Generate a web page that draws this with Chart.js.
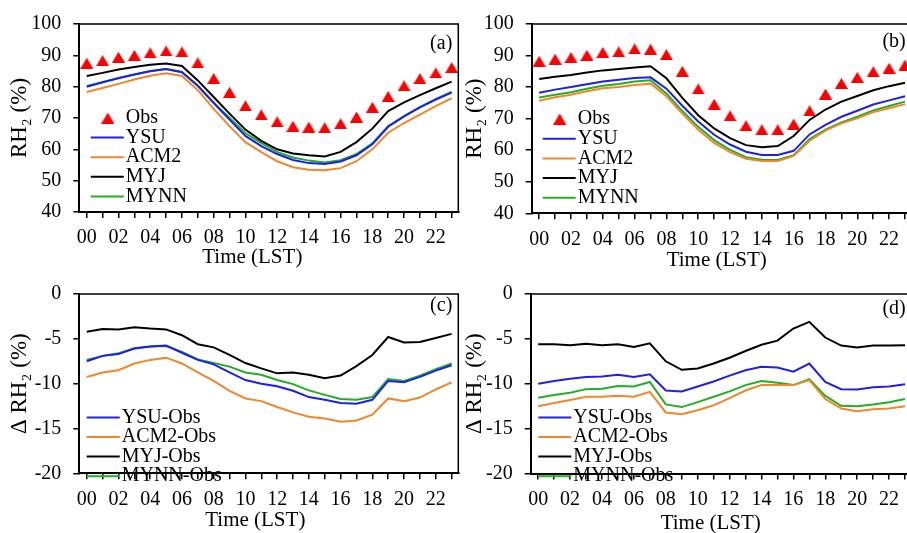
<!DOCTYPE html>
<html>
<head>
<meta charset="utf-8">
<script src="https://cdn.jsdelivr.net/npm/chart.js@4"></script>
<style>
  html, body { margin: 0; padding: 0; background: #fff; }
  body { position: relative; width: 907px; height: 533px; overflow: hidden; }
  .panel { position: absolute; }
</style>
</head>
<body>
<div class="panel" style="left:0;top:0;width:466px;height:268px"><canvas id="pa"></canvas></div>
<div class="panel" style="left:460px;top:0;width:460px;height:271px"><canvas id="pb"></canvas></div>
<div class="panel" style="left:0;top:270px;width:466px;height:261px"><canvas id="pc"></canvas></div>
<div class="panel" style="left:460px;top:270px;width:460px;height:263px"><canvas id="pd"></canvas></div>
<script>
const hours = [0, 1, 2, 3, 4, 5, 6, 7, 8, 9, 10, 11, 12, 13, 14, 15, 16, 17, 18, 19, 20, 21, 22, 23];

// (a) RH2
const obsA = [87.5, 88.3, 89.4, 90.0, 90.8, 91.4, 91.1, 87.6, 82.6, 78.2, 73.9, 71.0, 68.8, 67.4, 67.1, 66.9, 68.2, 70.3, 73.4, 76.9, 80.3, 82.6, 84.4, 86.1];
const ysuA = [80.0, 81.4, 82.7, 83.9, 84.9, 85.6, 84.6, 80.3, 74.8, 69.5, 64.3, 61.0, 58.5, 56.6, 55.6, 55.3, 56.1, 58.1, 61.6, 67.2, 70.5, 73.4, 75.9, 78.1];
const acmA = [78.3, 79.6, 80.9, 82.3, 83.5, 84.3, 83.4, 78.9, 72.9, 67.4, 62.3, 59.1, 56.2, 54.3, 53.5, 53.3, 54.0, 56.2, 60.0, 65.3, 68.4, 71.1, 73.8, 76.3];
const myjA = [83.4, 84.4, 85.5, 86.3, 87.0, 87.4, 86.6, 82.0, 76.7, 71.4, 66.3, 62.7, 60.0, 58.7, 58.1, 57.7, 59.2, 62.3, 66.6, 72.2, 75.0, 77.3, 79.5, 81.6];
const mynnA = [80.2, 81.4, 82.8, 83.9, 85.0, 85.6, 84.7, 80.3, 74.9, 70.1, 65.2, 62.0, 59.2, 57.4, 56.4, 55.8, 56.5, 58.5, 61.9, 67.4, 70.6, 73.5, 76.0, 78.4];

// (b) RH2
const obsB = [88.2, 88.9, 89.4, 90.1, 91.0, 91.2, 92.1, 92.0, 90.3, 85.0, 79.4, 74.6, 70.9, 67.8, 66.5, 66.5, 68.3, 72.5, 77.8, 81.2, 83.1, 84.9, 86.0, 87.0];
const ysuB = [78.2, 79.2, 80.0, 80.9, 81.8, 82.3, 82.9, 83.1, 79.5, 74.1, 69.1, 64.9, 61.8, 59.5, 58.5, 58.5, 59.8, 65.0, 68.0, 70.6, 72.5, 74.5, 75.8, 77.1];
const acmB = [75.7, 76.8, 77.6, 78.7, 79.6, 80.0, 80.7, 81.1, 77.1, 71.6, 66.5, 62.3, 59.4, 57.3, 56.6, 56.6, 58.2, 63.0, 66.2, 68.5, 70.1, 72.1, 73.3, 74.6];
const myjB = [82.6, 83.3, 83.8, 84.6, 85.3, 85.7, 86.2, 86.6, 82.8, 76.6, 71.1, 66.9, 63.8, 61.6, 60.9, 61.3, 64.5, 69.6, 72.9, 75.4, 77.2, 79.0, 80.3, 81.4];
const mynnB = [76.7, 77.6, 78.4, 79.5, 80.4, 81.0, 81.8, 82.2, 78.0, 72.4, 67.4, 63.2, 60.1, 57.8, 57.0, 56.9, 58.4, 63.5, 66.5, 68.8, 70.6, 72.6, 74.0, 75.4];

// (c) model - obs
const dYsuC = [-7.5, -6.9, -6.7, -6.05, -5.85, -5.75, -6.55, -7.35, -7.85, -8.75, -9.6, -10.0, -10.3, -10.8, -11.5, -11.8, -12.15, -12.25, -11.8, -9.7, -9.85, -9.25, -8.55, -7.95];
const dAcmC = [-9.25, -8.75, -8.5, -7.75, -7.35, -7.1, -7.75, -8.75, -9.7, -10.8, -11.65, -11.95, -12.6, -13.2, -13.7, -13.9, -14.25, -14.1, -13.45, -11.65, -11.95, -11.55, -10.65, -9.85];
const dMyjC = [-4.2, -3.9, -3.95, -3.7, -3.85, -3.95, -4.6, -5.6, -5.95, -6.8, -7.7, -8.3, -8.85, -8.75, -9.0, -9.4, -9.1, -8.05, -6.8, -4.8, -5.4, -5.35, -4.9, -4.45];
const dMynnC = [-7.35, -6.9, -6.6, -6.1, -5.85, -5.8, -6.45, -7.3, -7.7, -8.1, -8.75, -9.0, -9.6, -10.05, -10.75, -11.25, -11.7, -11.8, -11.5, -9.5, -9.7, -9.1, -8.4, -7.75];

// (d) model - obs
const dYsuD = [-10.0, -9.7, -9.45, -9.25, -9.2, -9.0, -9.25, -8.95, -10.75, -10.85, -10.3, -9.75, -9.1, -8.5, -8.1, -8.2, -8.65, -7.75, -9.8, -10.6, -10.65, -10.4, -10.3, -10.05];
const dAcmD = [-12.5, -12.15, -11.8, -11.45, -11.45, -11.35, -11.45, -10.9, -13.2, -13.4, -12.95, -12.4, -11.6, -10.75, -10.15, -10.15, -10.15, -9.6, -11.7, -12.75, -13.05, -12.85, -12.75, -12.5];
const dMyjD = [-5.6, -5.6, -5.7, -5.55, -5.7, -5.6, -5.9, -5.5, -7.5, -8.45, -8.3, -7.75, -7.1, -6.35, -5.65, -5.2, -3.85, -3.1, -4.85, -5.75, -5.95, -5.75, -5.75, -5.7];
const dMynnD = [-11.55, -11.25, -11.0, -10.6, -10.55, -10.25, -10.3, -9.8, -12.3, -12.6, -12.05, -11.45, -10.85, -10.15, -9.7, -9.9, -10.15, -9.5, -11.35, -12.45, -12.5, -12.3, -12.05, -11.7];

const FONT = '"Liberation Serif", "Times New Roman", "DejaVu Serif", serif';
Chart.defaults.font.family = FONT;
Chart.defaults.color = '#000';

const BLUE = 'rgb(30,30,240)';
const ORANGE = 'rgb(240,135,40)';
const BLACK = '#000';
const GREEN = 'rgb(35,175,35)';
const RED = 'rgb(255,0,0)';

// triangle marker centred on its bounding box
function triangle(w, h, color) {
    const c = document.createElement('canvas');
    c.width = w;
    c.height = h;
    const g = c.getContext('2d');
    g.fillStyle = color;
    g.beginPath();
    g.moveTo(w / 2, 0);
    g.lineTo(w, h);
    g.lineTo(0, h);
    g.closePath();
    g.fill();
    return c;
}
const tri = triangle(13, 11, RED);

function lineSet(label, values, color) {
    return { label: label, data: values, borderColor: color, backgroundColor: color, borderWidth: 2, pointRadius: 0, tension: 0 };
}
function obsSet(values) {
    return { label: 'Obs', data: values, showLine: false, pointStyle: tri, pointRadius: 7, borderWidth: 0, backgroundColor: RED, borderColor: RED };
}

// frame, legend inside the plot, x title and panel tag
const panelDeco = {
    id: 'panelDeco',
    afterDraw(chart, args, o) {
        const { ctx, chartArea: a } = chart;
        ctx.save();
        ctx.strokeStyle = '#000';
        ctx.lineWidth = 1.5;
        ctx.beginPath();
        ctx.moveTo(a.left, a.top);
        ctx.lineTo(a.right, a.top);
        ctx.lineTo(a.right, a.bottom);
        ctx.stroke();

        ctx.font = '20px ' + FONT;
        ctx.fillStyle = '#000';
        ctx.textBaseline = 'middle';
        chart.data.datasets.forEach((ds, i) => {
            const x = a.left + o.lx;
            const y = a.top + o.ly + i * o.gap;
            if (ds.showLine === false) {
                ctx.drawImage(ds.pointStyle, x + 17 - 6.5, y - 5.5);
            } else {
                ctx.strokeStyle = ds.borderColor;
                ctx.lineWidth = 2;
                ctx.beginPath();
                ctx.moveTo(x, y);
                ctx.lineTo(x + 33, y);
                ctx.stroke();
            }
            ctx.fillStyle = '#000';
            ctx.fillText(ds.label, x + 35, y);
        });

        ctx.textAlign = 'right';
        ctx.fillText(o.tag, a.right - 6, a.top + o.tagY);

        ctx.font = '21px ' + FONT;
        ctx.textAlign = 'center';
        ctx.fillText('Time (LST)', a.left + o.tx, a.bottom + o.ty);
        ctx.restore();
    }
};

function makePanel(id, p) {
    new Chart(document.getElementById(id), {
        type: 'line',
        data: { labels: hours, datasets: p.datasets },
        options: {
            animation: false,
            responsive: true,
            maintainAspectRatio: false,
            layout: { padding: { left: 0, top: p.top, right: p.right, bottom: 0 } },
            plugins: {
                legend: { display: false },
                tooltip: { enabled: false },
                panelDeco: p.deco
            },
            scales: {
                x: {
                    type: 'linear',
                    min: -0.47,
                    max: 23.42,
                    afterBuildTicks: s => { s.ticks = hours.map(h => ({ value: h })); },
                    afterFit: s => { s.height = p.xh; },
                    ticks: {
                        autoSkip: false,
                        maxRotation: 0,
                        padding: 8,
                        font: { size: 20 },
                        callback: v => (v % 2 === 0 ? String(v).padStart(2, '0') : '')
                    },
                    grid: { drawOnChartArea: false, drawTicks: true, tickLength: 6, color: '#000', lineWidth: 1.5 },
                    border: { display: true, color: '#000', width: 2 },
                    title: { display: false }
                },
                y: {
                    min: p.ymin,
                    max: p.ymax,
                    afterFit: s => { s.width = p.yw; },
                    ticks: { stepSize: p.step, padding: 12, font: { size: 20 } },
                    grid: { drawOnChartArea: false, drawTicks: true, tickLength: 6, color: '#000', lineWidth: 1.5 },
                    border: { display: true, color: '#000', width: 2 },
                    title: { display: true, text: p.ytitle, font: { size: 23, lineHeight: 1 }, padding: { top: p.tpad, bottom: 0 } }
                }
            }
        },
        plugins: [panelDeco]
    });
}

makePanel('pa', {
    datasets: [obsSet(obsA), lineSet('YSU', ysuA, BLUE), lineSet('ACM2', acmA, ORANGE), lineSet('MYJ', myjA, BLACK), lineSet('MYNN', mynnA, GREEN)],
    top: 22, right: 7.7, yw: 79.3, xh: 56, tpad: 8.5,
    ymin: 40, ymax: 100, step: 10, ytitle: 'RH₂ (%)',
    deco: { lx: 11.5, ly: 94, gap: 19.6, tag: '(a)', tagY: 20, tx: 173, ty: 45.5 }
});
makePanel('pb', {
    datasets: [obsSet(obsB), lineSet('YSU', ysuB, BLUE), lineSet('ACM2', acmB, ORANGE), lineSet('MYJ', myjB, BLACK), lineSet('MYNN', mynnB, GREEN)],
    top: 23, right: 8.3, yw: 71.7, xh: 57.7, tpad: 3.5,
    ymin: 40, ymax: 100, step: 10, ytitle: 'RH₂ (%)',
    deco: { lx: 11, ly: 95, gap: 19.7, tag: '(b)', tagY: 18, tx: 185, ty: 47.5 }
});
makePanel('pc', {
    datasets: [lineSet('YSU-Obs', dYsuC, BLUE), lineSet('ACM2-Obs', dAcmC, ORANGE), lineSet('MYJ-Obs', dMyjC, BLACK), lineSet('MYNN-Obs', dMynnC, GREEN)],
    top: 13.3, right: 7.7, yw: 79.3, xh: 57.7, tpad: 8.5,
    ymin: -20, ymax: 0, step: 5, ytitle: 'Δ RH₂ (%)',
    deco: { lx: 7.4, ly: 123.4, gap: 19.6, tag: '(c)', tagY: 12, tx: 176, ty: 47.4 }
});
makePanel('pd', {
    datasets: [lineSet('YSU-Obs', dYsuD, BLUE), lineSet('ACM2-Obs', dAcmD, ORANGE), lineSet('MYJ-Obs', dMyjD, BLACK), lineSet('MYNN-Obs', dMynnD, GREEN)],
    top: 13.3, right: 8.3, yw: 70.7, xh: 59.5, tpad: 3.5,
    ymin: -20, ymax: 0, step: 5, ytitle: 'Δ RH₂ (%)',
    deco: { lx: 7.6, ly: 123.4, gap: 19.6, tag: '(d)', tagY: 15, tx: 180, ty: 49.5 }
});
</script>
</body>
</html>
